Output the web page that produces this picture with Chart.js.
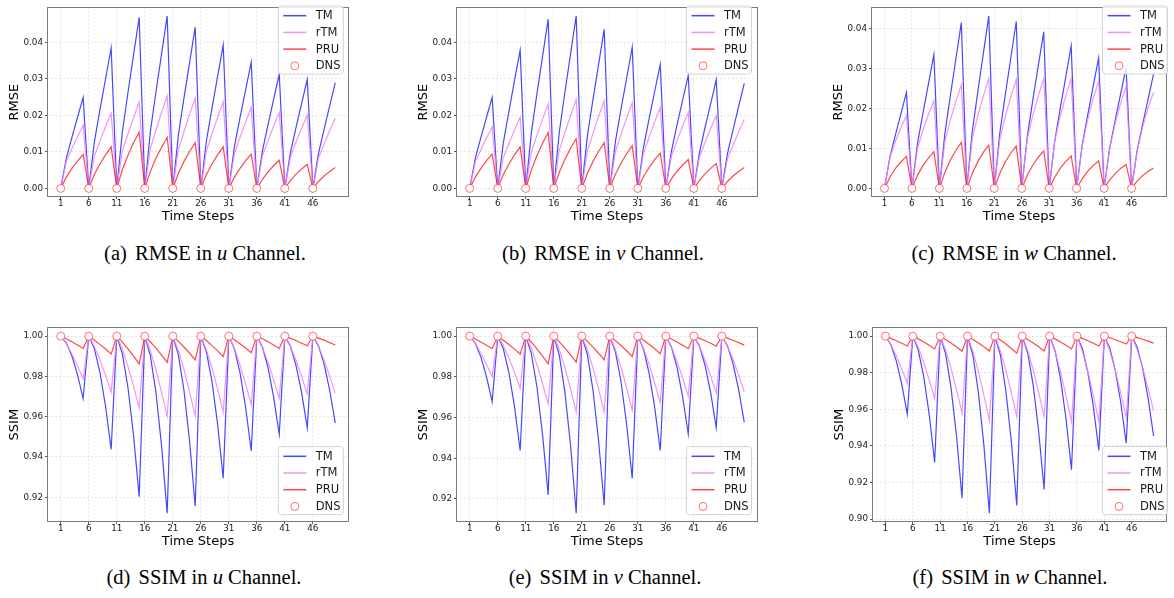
<!DOCTYPE html>
<html><head><meta charset="utf-8">
<script src="https://cdn.jsdelivr.net/npm/chart.js@4.4.0/dist/chart.umd.min.js"></script>
<style>
html,body{margin:0;padding:0;background:#fff;}
body{width:1174px;height:598px;position:relative;overflow:hidden;}
canvas{position:absolute;}
.cap{position:absolute;transform:translate(-50%,-50%);font-family:"Liberation Serif","Times New Roman",serif;font-size:20.5px;color:#000;white-space:nowrap;line-height:1;}
.cap .lb{margin-right:0.4em;}
</style></head><body>
<div class="cap" style="left:205px;top:253px"><span class="lb">(a)</span>RMSE in <i>u</i> Channel.</div>
<div class="cap" style="left:603px;top:253px"><span class="lb">(b)</span>RMSE in <i>v</i> Channel.</div>
<div class="cap" style="left:1014px;top:253px"><span class="lb">(c)</span>RMSE in <i>w</i> Channel.</div>
<div class="cap" style="left:204px;top:577px"><span class="lb">(d)</span>SSIM in <i>u</i> Channel.</div>
<div class="cap" style="left:605px;top:577px"><span class="lb">(e)</span>SSIM in <i>v</i> Channel.</div>
<div class="cap" style="left:1010px;top:577px"><span class="lb">(f)</span>SSIM in <i>w</i> Channel.</div>
<script>
// ---------------- data ----------------
const steps = [1,2,3,4,5,6,7,8,9,10,11,12,13,14,15,16,17,18,19,20,21,22,23,24,25,26,27,28,29,30,31,32,33,34,35,36,37,38,39,40,41,42,43,44,45,46,47,48,49,50];
const xTicks = [1,6,11,16,21,26,31,36,41,46];
const dnsSteps = [1,6,11,16,21,26,31,36,41,46];
const rmseTicks = [0.00,0.01,0.02,0.03,0.04];
const ssimTicksUV = [0.92,0.94,0.96,0.98,1.00];
const ssimTicksW = [0.90,0.92,0.94,0.96,0.98,1.00];
const rmseDNS = [0,0,0,0,0,0,0,0,0,0];
const ssimDNS = [1,1,1,1,1,1,1,1,1,1];

const rmseU_TM = [0,.0083,.0140,.0195,.0250, 0,.0127,.0216,.0300,.0385, 0,.0155,.0263,.0366,.0469, 0,.0156,.0265,.0369,.0473, 0,.0146,.0248,.0345,.0442, 0,.0130,.0220,.0307,.0393, 0,.0114,.0194,.0270,.0346, 0,.0103,.0175,.0244,.0313, 0,.0099,.0167,.0233,.0299, 0,.0096,.0162,.0226,.0290];
const rmseU_rTM = [0,.0074,.0109,.0142,.0173, 0,.0089,.0130,.0169,.0206, 0,.0102,.0149,.0194,.0237, 0,.0109,.0160,.0208,.0254, 0,.0107,.0156,.0203,.0248, 0,.0102,.0150,.0195,.0238, 0,.0095,.0140,.0182,.0222, 0,.0089,.0131,.0171,.0208, 0,.0086,.0127,.0165,.0201, 0,.0083,.0122,.0158,.0193];
const rmseU_PRU = [0,.0031,.0055,.0075,.0093, 0,.0038,.0067,.0092,.0114, 0,.0051,.0091,.0125,.0154, 0,.0046,.0083,.0113,.0140, 0,.0041,.0074,.0101,.0125, 0,.0038,.0067,.0092,.0114, 0,.0031,.0055,.0076,.0094, 0,.0025,.0045,.0062,.0077, 0,.0022,.0039,.0053,.0066, 0,.0019,.0034,.0046,.0057];

const rmseV_TM = [0,.0083,.0140,.0195,.0250, 0,.0125,.0212,.0296,.0379, 0,.0153,.0260,.0362,.0464, 0,.0156,.0265,.0369,.0473, 0,.0144,.0244,.0340,.0436, 0,.0128,.0217,.0302,.0387, 0,.0112,.0190,.0265,.0340, 0,.0102,.0174,.0242,.0310, 0,.0098,.0167,.0232,.0298, 0,.0095,.0161,.0225,.0288];
const rmseV_rTM = [0,.0073,.0106,.0139,.0169, 0,.0084,.0123,.0160,.0195, 0,.0100,.0146,.0190,.0232, 0,.0105,.0154,.0200,.0244, 0,.0103,.0151,.0197,.0240, 0,.0101,.0148,.0193,.0235, 0,.0095,.0140,.0182,.0222, 0,.0089,.0131,.0171,.0208, 0,.0086,.0126,.0164,.0200, 0,.0081,.0119,.0155,.0189];
const rmseV_PRU = [0,.0031,.0055,.0076,.0094, 0,.0038,.0067,.0092,.0114, 0,.0050,.0090,.0124,.0153, 0,.0045,.0080,.0110,.0136, 0,.0041,.0074,.0101,.0125, 0,.0039,.0069,.0095,.0117, 0,.0032,.0057,.0079,.0097, 0,.0026,.0047,.0064,.0079, 0,.0022,.0040,.0055,.0068, 0,.0019,.0034,.0046,.0057];

const rmseW_TM = [0,.0079,.0134,.0187,.0240, 0,.0111,.0188,.0261,.0335, 0,.0137,.0232,.0324,.0415, 0,.0143,.0242,.0337,.0432, 0,.0138,.0234,.0326,.0418, 0,.0129,.0220,.0306,.0392, 0,.0118,.0200,.0278,.0357, 0,.0108,.0183,.0255,.0327, 0,.0100,.0170,.0236,.0303, 0,.0094,.0160,.0223,.0286];
const rmseW_rTM = [0,.0078,.0118,.0152,.0182, 0,.0099,.0145,.0185,.0220, 0,.0117,.0171,.0218,.0259, 0,.0124,.0182,.0231,.0275, 0,.0123,.0180,.0229,.0273, 0,.0124,.0182,.0231,.0275, 0,.0118,.0180,.0231,.0275, 0,.0105,.0172,.0224,.0269, 0,.0098,.0162,.0213,.0255, 0,.0092,.0153,.0201,.0240];
const rmseW_PRU = [0,.0028,.0050,.0066,.0080, 0,.0032,.0057,.0076,.0092, 0,.0040,.0071,.0095,.0115, 0,.0038,.0067,.0090,.0108, 0,.0037,.0066,.0088,.0106, 0,.0033,.0058,.0078,.0094, 0,.0028,.0050,.0067,.0081, 0,.0024,.0043,.0057,.0069, 0,.0021,.0037,.0050,.0060, 0,.0018,.0032,.0042,.0051];

const ssimU_TM = [1,.9966,.9901,.9808,.9690, 1,.9938,.9820,.9652,.9438, 1,.9912,.9745,.9506,.9203, 1,.9903,.9719,.9455,.9121, 1,.9907,.9730,.9477,.9156, 1,.9922,.9774,.9563,.9295, 1,.9937,.9818,.9647,.9430, 1,.9946,.9844,.9697,.9512, 1,.9950,.9854,.9718,.9545, 1,.9952,.9862,.9732,.9568];
const ssimU_rTM = [1,.9962,.9911,.9852,.9788, 1,.9950,.9883,.9805,.9722, 1,.9936,.9850,.9751,.9644, 1,.9928,.9833,.9721,.9602, 1,.9929,.9834,.9723,.9604, 1,.9932,.9842,.9737,.9624, 1,.9939,.9857,.9762,.9660, 1,.9944,.9870,.9783,.9690, 1,.9948,.9879,.9799,.9713, 1,.9949,.9881,.9801,.9716];
const ssimU_PRU = [1,.9987,.9972,.9956,.9939, 1,.9980,.9959,.9936,.9911, 1,.9970,.9937,.9901,.9862, 1,.9971,.9940,.9906,.9870, 1,.9974,.9946,.9915,.9882, 1,.9978,.9953,.9927,.9898, 1,.9982,.9962,.9941,.9918, 1,.9987,.9972,.9956,.9939, 1,.9989,.9978,.9965,.9952, 1,.9990,.9980,.9968,.9956];

const ssimV_TM = [1,.9965,.9897,.9800,.9678, 1,.9938,.9820,.9652,.9438, 1,.9914,.9750,.9516,.9220, 1,.9904,.9722,.9461,.9130, 1,.9909,.9734,.9485,.9169, 1,.9923,.9777,.9567,.9302, 1,.9938,.9820,.9652,.9438, 1,.9947,.9846,.9702,.9519, 1,.9951,.9856,.9722,.9551, 1,.9953,.9864,.9737,.9576];
const ssimV_rTM = [1,.9964,.9916,.9861,.9801, 1,.9954,.9892,.9821,.9744, 1,.9940,.9860,.9766,.9666, 1,.9933,.9844,.9740,.9628, 1,.9933,.9844,.9740,.9628, 1,.9934,.9847,.9745,.9636, 1,.9941,.9863,.9771,.9673, 1,.9947,.9876,.9794,.9705, 1,.9950,.9882,.9804,.9720, 1,.9951,.9885,.9808,.9726];
const ssimV_PRU = [1,.9986,.9971,.9955,.9938, 1,.9980,.9959,.9936,.9911, 1,.9970,.9937,.9902,.9864, 1,.9972,.9941,.9908,.9872, 1,.9974,.9946,.9916,.9883, 1,.9978,.9954,.9928,.9900, 1,.9981,.9960,.9938,.9914, 1,.9986,.9971,.9955,.9938, 1,.9989,.9977,.9965,.9951, 1,.9990,.9980,.9968,.9956];

const ssimW_TM = [1,.9953,.9863,.9735,.9573, 1,.9924,.9779,.9572,.9310, 1,.9903,.9716,.9451,.9114, 1,.9894,.9690,.9400,.9032, 1,.9898,.9704,.9426,.9074, 1,.9908,.9732,.9480,.9162, 1,.9920,.9766,.9547,.9270, 1,.9931,.9800,.9613,.9375, 1,.9936,.9812,.9637,.9414, 1,.9940,.9825,.9661,.9454];
const ssimW_rTM = [1,.9954,.9892,.9819,.9742, 1,.9939,.9857,.9761,.9659, 1,.9924,.9824,.9706,.9580, 1,.9917,.9806,.9676,.9537, 1,.9921,.9815,.9691,.9559, 1,.9921,.9815,.9692,.9560, 1,.9916,.9804,.9673,.9533, 1,.9916,.9804,.9673,.9533, 1,.9920,.9813,.9689,.9555, 1,.9926,.9828,.9714,.9591];
const ssimW_PRU = [1,.9988,.9975,.9961,.9946, 1,.9985,.9968,.9950,.9930, 1,.9982,.9962,.9940,.9917, 1,.9982,.9963,.9942,.9919, 1,.9979,.9957,.9932,.9906, 1,.9982,.9963,.9942,.9919, 1,.9985,.9968,.9950,.9930, 1,.9988,.9975,.9961,.9946, 1,.9991,.9980,.9969,.9957, 1,.9992,.9983,.9973,.9962];

// ---------------- style ----------------
Chart.defaults.font.family = "'DejaVu Sans', sans-serif";
const C_TM = 'rgba(0,0,255,0.72)';
const C_rTM = 'rgba(238,130,238,0.85)';
const C_PRU = 'rgba(255,0,0,0.72)';
const C_DNS = 'rgba(255,0,0,0.55)';
const GRID = 'rgba(0,0,0,0.13)';
const TXT = '#1a1a1a';

const panels = [
  {L:47,  R:349,  T:2,   B:197, top:0,   yLabel:'RMSE', yTicks:rmseTicks,   TM:rmseU_TM, rTM:rmseU_rTM, PRU:rmseU_PRU, DNS:rmseDNS, leg:[278.3,6]},
  {L:456, R:758,  T:2,   B:197, top:0,   yLabel:'RMSE', yTicks:rmseTicks,   TM:rmseV_TM, rTM:rmseV_rTM, PRU:rmseV_PRU, DNS:rmseDNS, leg:[686.5,6]},
  {L:871, R:1167, T:2,   B:197, top:0,   yLabel:'RMSE', yTicks:rmseTicks,   TM:rmseW_TM, rTM:rmseW_rTM, PRU:rmseW_PRU, DNS:rmseDNS, leg:[1102.5,6]},
  {L:47,  R:349,  T:325, B:522, top:320, yLabel:'SSIM', yTicks:ssimTicksUV, TM:ssimU_TM, rTM:ssimU_rTM, PRU:ssimU_PRU, DNS:ssimDNS, leg:[278.3,446.6]},
  {L:456, R:758,  T:325, B:522, top:320, yLabel:'SSIM', yTicks:ssimTicksUV, TM:ssimV_TM, rTM:ssimV_rTM, PRU:ssimV_PRU, DNS:ssimDNS, leg:[686.5,446.6]},
  {L:872, R:1167, T:325, B:522, top:320, yLabel:'SSIM', yTicks:ssimTicksW,  TM:ssimW_TM, rTM:ssimW_rTM, PRU:ssimW_PRU, DNS:ssimDNS, leg:[1102.5,446.6]}
];

function range(arrs){
  let lo = Infinity, hi = -Infinity;
  arrs.forEach(a => a.forEach(v => { if (v < lo) lo = v; if (v > hi) hi = v; }));
  const m = (hi - lo) * 0.05;
  return [lo - m, hi + m];
}

const framePlugin = {
  id: 'frame',
  afterDatasetsDraw(chart){
    const {ctx, chartArea:a} = chart;
    ctx.save();
    ctx.strokeStyle = '#7a7a7a';
    ctx.lineWidth = 1;
    ctx.strokeRect(Math.round(a.left)+0.5, Math.round(a.top)+0.5, Math.round(a.right-a.left)-1, Math.round(a.bottom-a.top)-1);
    ctx.restore();
  }
};

function makeLegend(p){
  return {
    id: 'boxlegend',
    afterDraw(chart){
      const ctx = chart.ctx;
      const ox = p.L - 47, oy = p.top;
      const bx = p.leg[0] - ox, by = p.leg[1] - oy, bw = 65, bh = 68, r = 3;
      ctx.save();
      ctx.beginPath();
      ctx.moveTo(bx + r, by);
      ctx.lineTo(bx + bw - r, by); ctx.quadraticCurveTo(bx + bw, by, bx + bw, by + r);
      ctx.lineTo(bx + bw, by + bh - r); ctx.quadraticCurveTo(bx + bw, by + bh, bx + bw - r, by + bh);
      ctx.lineTo(bx + r, by + bh); ctx.quadraticCurveTo(bx, by + bh, bx, by + bh - r);
      ctx.lineTo(bx, by + r); ctx.quadraticCurveTo(bx, by, bx + r, by);
      ctx.closePath();
      ctx.fillStyle = 'rgba(255,255,255,0.85)';
      ctx.fill();
      ctx.strokeStyle = '#d4d4d4';
      ctx.lineWidth = 1;
      ctx.stroke();
      const order = ['TM','rTM','PRU','DNS'];
      const ds = chart.data.datasets;
      order.forEach((lab, i) => {
        const d = ds.find(s => s.label === lab);
        const cy = by + 9.7 + i * 16.7;
        if (lab === 'DNS') {
          ctx.beginPath();
          ctx.arc(bx + 16.5, cy, 4, 0, Math.PI * 2);
          ctx.fillStyle = '#fff'; ctx.fill();
          ctx.strokeStyle = d.pointBorderColor; ctx.lineWidth = 1; ctx.stroke();
        } else {
          ctx.beginPath();
          ctx.moveTo(bx + 5, cy); ctx.lineTo(bx + 28, cy);
          ctx.strokeStyle = d.borderColor; ctx.lineWidth = 1.5; ctx.stroke();
        }
        ctx.fillStyle = TXT;
        ctx.font = "11.5px 'DejaVu Sans'";
        ctx.textBaseline = 'middle';
        ctx.textAlign = 'left';
        ctx.fillText(lab, bx + 37.4, cy + 0.5);
      });
      ctx.restore();
    }
  };
}

function build(p){
  const cv = document.createElement('canvas');
  const left = p.L - 47, w = p.R - p.L + 47 + 6, h = p.B - p.top + 28;
  cv.width = w; cv.height = h;
  cv.style.left = left + 'px'; cv.style.top = p.top + 'px';
  cv.style.width = w + 'px'; cv.style.height = h + 'px';
  document.body.appendChild(cv);
  const [ymin, ymax] = range([p.TM, p.rTM, p.PRU, p.DNS]);
  const [xmin, xmax] = range([steps]);
  const line = (label, arr, color, order) => ({
    label, order,
    data: steps.map((x, i) => ({x, y: arr[i]})),
    borderColor: color, backgroundColor: color, borderWidth: 1.2,
    pointRadius: 0, pointHoverRadius: 0, tension: 0, fill: false
  });
  new Chart(cv, {
    type: 'line',
    data: { datasets: [
      { label: 'DNS', order: 0, data: dnsSteps.map((x, i) => ({x, y: p.DNS[i]})),
        showLine: false, pointRadius: 4, pointHoverRadius: 4, pointBackgroundColor: '#fff',
        pointBorderColor: C_DNS, pointBorderWidth: 1, borderColor: C_DNS, backgroundColor: '#fff' },
      line('PRU', p.PRU, C_PRU, 1),
      line('rTM', p.rTM, C_rTM, 2),
      line('TM', p.TM, C_TM, 3)
    ]},
    options: {
      responsive: false, animation: false, devicePixelRatio: 1, events: [],
      layout: { padding: { left: 0, right: 6, top: p.T - p.top, bottom: 0 } },
      plugins: { legend: { display: false }, tooltip: { enabled: false } },
      scales: {
        x: {
          type: 'linear', min: xmin, max: xmax,
          afterBuildTicks: s => { s.ticks = xTicks.map(v => ({value: v})); },
          afterFit: s => { s.height = 28; },
          ticks: { callback: v => String(v), font: { size: 8.8, lineHeight: 1 }, padding: 0, color: TXT, maxRotation: 0, autoSkip: false },
          grid: { color: GRID, lineWidth: 0.8, drawTicks: true, tickLength: 2, tickColor: '#555', tickWidth: 1 },
          border: { display: false, dash: [2, 2] },
          title: { display: true, text: 'Time Steps', font: { size: 13 }, padding: { top: 0, bottom: 0.5 }, color: '#000' }
        },
        y: {
          min: ymin, max: ymax,
          afterBuildTicks: s => { s.ticks = p.yTicks.map(v => ({value: v})); },
          afterFit: s => { s.width = 47; },
          ticks: { callback: v => v.toFixed(2), font: { size: 8.8 }, padding: 2, color: TXT },
          grid: { color: GRID, lineWidth: 0.8, drawTicks: true, tickLength: 2, tickColor: '#555', tickWidth: 1 },
          border: { display: false, dash: [2, 2] },
          title: { display: true, text: p.yLabel, font: { size: 13 }, padding: { top: 7, bottom: 0 }, color: '#000' }
        }
      }
    },
    plugins: [framePlugin, makeLegend(p)]
  });
}
panels.forEach(build);
</script>
</body></html>
